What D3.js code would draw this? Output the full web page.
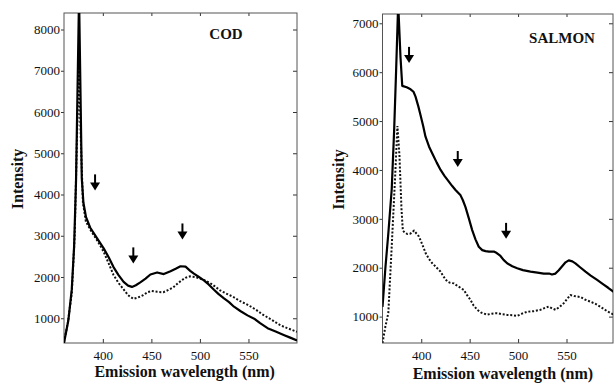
<!DOCTYPE html>
<html>
<head>
<meta charset="utf-8">
<script src="https://cdn.jsdelivr.net/npm/d3@7"></script>
<style>
  html, body { margin: 0; padding: 0; background: #fff; }
  svg { display: block; }
  .title { font-family: "Liberation Serif", "Times New Roman", serif; font-weight: bold; fill: #111; }
</style>
</head>
<body>
<div id="chart"></div>
<script>
"use strict";

// tick labels
const xTicks = [400, 450, 500, 550];
const codYTicks = [1000, 2000, 3000, 4000, 5000, 6000, 7000, 8000];
const salmonYTicks = [1000, 2000, 3000, 4000, 5000, 6000, 7000];

// [wavelength nm, intensity]
const codSolid = [
  [360, 400], [364.5, 950], [368, 1700], [370.4, 2730], [372.4, 4340], [375.5, 8800],
  [378.3, 4400], [380, 3800], [382.7, 3450], [386.9, 3200], [393.8, 2950], [400.7, 2700],
  [406, 2480], [411, 2240], [416, 2050], [421.4, 1880], [426, 1790], [430, 1760],
  [434, 1800], [438.6, 1870], [444, 1960], [449, 2060], [455.9, 2110], [462.8, 2070],
  [469.7, 2140], [475, 2200], [480, 2260], [485.2, 2250], [490, 2150], [493.8, 2080],
  [499, 2000], [504.1, 1920], [509, 1820], [514.5, 1690], [519, 1590], [524.8, 1480],
  [530, 1390], [535.1, 1280], [542, 1170], [549, 1070], [555.9, 990], [562, 880],
  [569.7, 760], [578, 680], [586.9, 590], [593, 530], [600, 460],
];

const codDotted = [
  [360, 420], [364, 900], [368, 1600], [371, 3000], [373.5, 5500], [375.5, 7100],
  [377.5, 5200], [379.5, 3800], [382.5, 3350], [387, 3150], [393.8, 2900], [400.7, 2620],
  [406, 2330], [411, 2050], [416, 1860], [421.4, 1700], [426, 1560], [431.4, 1470],
  [436, 1500], [441.7, 1560], [446, 1630], [450.3, 1660], [456, 1640], [462.3, 1630],
  [467, 1680], [472.6, 1750], [477, 1840], [481.2, 1920], [485, 1980], [489.8, 2015],
  [495, 2000], [500.1, 1960], [505, 1920], [510.4, 1855], [515, 1780], [520.8, 1675],
  [527, 1600], [534.6, 1515], [541, 1420], [548.4, 1335], [554, 1260], [558.7, 1190],
  [564, 1100], [569, 1030], [576, 930], [582.8, 830], [590, 760], [600, 670],
];

const salmonSolid = [
  [360, 1200], [363, 2000], [366, 2700], [369.5, 3600], [372, 4800], [374, 6000],
  [376.2, 7400], [378.6, 6300], [380.4, 5720], [385, 5690], [389, 5650], [392, 5600],
  [394.1, 5500], [397, 5300], [399.3, 5120], [402, 4900], [404.4, 4680], [408, 4480],
  [411.3, 4340], [416, 4150], [420, 4000], [424, 3880], [428.5, 3760], [432, 3670],
  [435.4, 3590], [440.6, 3480], [443, 3380], [445.7, 3240], [449, 3020], [452.6, 2770],
  [456, 2580], [459.4, 2430], [463, 2360], [466.4, 2340], [470, 2330], [475, 2330],
  [478, 2300], [481.8, 2240], [485, 2160], [488.7, 2090], [494, 2030], [499.1, 1990],
  [505, 1950], [512.8, 1920], [520, 1900], [526.5, 1880], [532, 1880], [535, 1860],
  [538.6, 1880], [542, 1950], [545.5, 2030], [549, 2110], [552.3, 2150], [556, 2130],
  [559.2, 2090], [564, 2010], [569.6, 1920], [575, 1840], [581.6, 1750], [588, 1660],
  [593, 1590], [599, 1500],
];

const salmonDotted = [
  [360, 460], [363, 800], [366, 1070], [369.5, 2430], [372.9, 3800], [375.4, 4900],
  [377.5, 4300], [379.6, 3200], [381, 2760], [383, 2720], [385.6, 2690], [389, 2700],
  [392.5, 2760], [395, 2700], [397.6, 2640], [401, 2480], [404.5, 2300], [408, 2180],
  [411.4, 2090], [416, 2000], [419.9, 1920], [423, 1820], [426.8, 1720], [430, 1690],
  [433.6, 1680], [438, 1620], [444, 1545], [447, 1450], [450.9, 1340], [454, 1230],
  [457.8, 1140], [462, 1080], [468.1, 1040], [473, 1060], [478.4, 1070], [483, 1050],
  [488.7, 1035], [494, 1030], [499.1, 1015], [504, 1060], [509.4, 1100], [516, 1110],
  [523.1, 1140], [528, 1180], [531.7, 1205], [535, 1170], [538.6, 1140], [543, 1200],
  [547.2, 1275], [551, 1370], [554.1, 1440], [558, 1420], [564.4, 1400], [569, 1350],
  [574.7, 1305], [580, 1260], [585, 1200], [592, 1110], [599, 1035],
];

// arrow tips, [wavelength nm, intensity]
const codArrows = [[392, 4100], [431.4, 2330], [482, 2910]];
const salmonArrows = [[387.4, 6190], [437.7, 4060], [487.6, 2590]];

const svg = d3.select("#chart").append("svg").attr("width", 614).attr("height", 384);

drawPanel({
  id: "cod",
  left: 64, right: 297, top: 13, bottom: 343,
  xDomain: [360, 600], yDomain: [400, 8400],
  yTicks: codYTicks,
  solid: codSolid, dotted: codDotted, arrows: codArrows,
  name: "COD", nameX: 226, nameY: 39, nameSize: 15,
  yTitleX: 23, xTitleY: 377,
});

drawPanel({
  id: "salmon",
  left: 382.5, right: 613, top: 14, bottom: 343,
  xDomain: [360, 598], yDomain: [460, 7190],
  yTicks: salmonYTicks,
  solid: salmonSolid, dotted: salmonDotted, arrows: salmonArrows,
  name: "SALMON", nameX: 562, nameY: 43, nameSize: 15,
  yTitleX: 344, xTitleY: 379,
});

function drawPanel(p) {
  const x = d3.scaleLinear().domain(p.xDomain).range([p.left, p.right]);
  const y = d3.scaleLinear().domain(p.yDomain).range([p.bottom, p.top]);
  const g = svg.append("g").attr("id", p.id);
  const fmt = d3.format("d");

  g.append("clipPath").attr("id", "clip-" + p.id)
    .append("rect")
    .attr("x", p.left).attr("y", p.top)
    .attr("width", p.right - p.left).attr("height", p.bottom - p.top);

  // axes
  g.append("g")
    .attr("transform", `translate(0,${p.bottom})`)
    .call(d3.axisBottom(x).tickValues(xTicks).tickSize(-4).tickPadding(8).tickFormat(fmt));
  g.append("g")
    .attr("transform", `translate(0,${p.top})`)
    .call(d3.axisTop(x).tickValues(xTicks).tickSize(-3).tickFormat(""));
  g.append("g")
    .attr("transform", `translate(${p.left},0)`)
    .call(d3.axisLeft(y).tickValues(p.yTicks).tickSize(3).tickPadding(1).tickFormat(fmt));
  g.append("g")
    .attr("transform", `translate(${p.right},0)`)
    .call(d3.axisRight(y).tickValues(p.yTicks).tickSize(-4).tickFormat(""));
  g.selectAll(".domain").remove();
  g.selectAll(".tick line").attr("stroke", "#333");
  g.selectAll(".tick text")
    .style("font-family", "'Liberation Serif', 'Times New Roman', serif")
    .style("font-size", "13px")
    .style("fill", "#111");

  g.append("rect")
    .attr("x", p.left).attr("y", p.top)
    .attr("width", p.right - p.left).attr("height", p.bottom - p.top)
    .attr("fill", "none").attr("stroke", "#555").attr("stroke-width", 1);

  // curves
  const line = d3.line().x((d) => x(d[0])).y((d) => y(d[1]));
  const curves = g.append("g").attr("clip-path", `url(#clip-${p.id})`);
  curves.append("path")
    .datum(p.dotted)
    .attr("d", line)
    .attr("fill", "none").attr("stroke", "#111")
    .attr("stroke-width", 2).attr("stroke-dasharray", "2,1.8");
  curves.append("path")
    .datum(p.solid)
    .attr("d", line)
    .attr("fill", "none").attr("stroke", "#000")
    .attr("stroke-width", 2.2).attr("stroke-linejoin", "round");

  // arrows pointing down at features
  const arrow = g.selectAll(".arrow").data(p.arrows).enter().append("g")
    .attr("class", "arrow")
    .attr("transform", (d) => `translate(${x(d[0])},${y(d[1])})`);
  arrow.append("line")
    .attr("x1", 0).attr("x2", 0).attr("y1", -16).attr("y2", -6)
    .attr("stroke", "#000").attr("stroke-width", 2);
  arrow.append("path")
    .attr("d", "M-5,-8 L5,-8 L0,0 Z")
    .attr("fill", "#000");

  // titles
  g.append("text")
    .attr("class", "title")
    .attr("x", p.nameX).attr("y", p.nameY)
    .attr("text-anchor", "middle")
    .style("font-size", p.nameSize + "px")
    .text(p.name);

  g.append("text")
    .attr("class", "title")
    .attr("transform", `translate(${p.yTitleX},${(p.top + p.bottom) / 2 + 1}) rotate(-90)`)
    .attr("text-anchor", "middle")
    .style("font-size", "16px")
    .text("Intensity");

  g.append("text")
    .attr("class", "title")
    .attr("x", (x(400) + x(550)) / 2 + 9).attr("y", p.xTitleY)
    .attr("text-anchor", "middle")
    .style("font-size", "16px")
    .text("Emission wavelength (nm)");
}
</script>
</body>
</html>
